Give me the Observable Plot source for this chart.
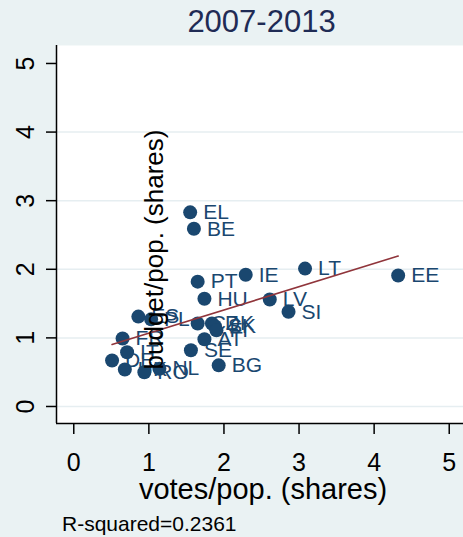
<!DOCTYPE html>
<html>
<head>
<meta charset="utf-8">
<script src="https://cdn.jsdelivr.net/npm/d3@7"></script>
<script src="https://cdn.jsdelivr.net/npm/@observablehq/plot@0.6"></script>
<style>
  html, body { margin: 0; padding: 0; background: #eaf2f3; width: 463px; height: 537px; overflow: hidden; }
  body { font-family: "Liberation Sans", Arial, sans-serif; }
  #title { height: 45px; line-height: 44px; font-size: 31px; color: #1f2b55; text-align: center; padding-left: 60px; box-sizing: border-box; width: 463px; }
  #chart svg { display: block; }
  #caption { font-size: 21px; line-height: 22px; padding-left: 62px; color: #000; }
</style>
</head>
<body>
<div id="title">2007-2013</div>
<div id="chart"></div>
<div id="caption">R-squared=0.2361</div>
<script>
// Country codes
const countries = ["DE","FR","UK","IT","ES","RO","PL","NL","SE","EL","BE","PT","CZ","HU","AT","DK","SK","FI","BG","IE","LV","SI","LT","EE"];
// votes/pop. (shares)
const votes = [0.51,0.65,0.68,0.71,0.86,0.94,1.03,1.14,1.56,1.55,1.60,1.65,1.65,1.74,1.74,1.84,1.88,1.90,1.93,2.29,2.61,2.86,3.08,4.32];
// budget/pop. (shares)
const budget = [0.67,0.99,0.54,0.79,1.31,0.50,1.27,0.55,0.82,2.83,2.59,1.82,1.21,1.57,0.98,1.21,1.17,1.11,0.60,1.92,1.56,1.38,2.01,1.91];
const xTicks = [0,1,2,3,4,5];
const yTicks = [0,1,2,3,4,5];
const gridTicks = [0,1,2,3,4];
const xTitle = "votes/pop. (shares)";
const yTitle = "budget/pop. (shares)";

const data = countries.map((c, i) => ({code: c, votes: votes[i], budget: budget[i]}));
const xDomain = [-0.23, 5.19];
const yDomain = [-0.248, 5.262];
const navy = "#1a476f";

const chart = Plot.plot({
  width: 463,
  height: 468,
  marginLeft: 56,
  marginRight: 0,
  marginTop: 0,
  marginBottom: 90,
  x: {domain: xDomain},
  y: {domain: yDomain},
  style: {background: "transparent", fontFamily: "'Liberation Sans', Arial, sans-serif", overflow: "visible"},
  marks: [
    Plot.frame({fill: "white", stroke: "none"}),
    Plot.gridY(gridTicks, {stroke: "#e6eef1", strokeOpacity: 1, strokeWidth: 1.5}),
    Plot.ruleX([xDomain[0]], {stroke: "black", strokeWidth: 1.5}),
    Plot.ruleY([yDomain[0]], {stroke: "black", strokeWidth: 1.5}),
    Plot.axisX(xTicks, {label: null, tickSize: 11, tickPadding: 19, fontSize: 25, fill: "black", stroke: "black", strokeWidth: 1.5, tickFormat: d => String(d)}),
    Plot.axisY(yTicks, {label: null, tickSize: 10, tickPadding: 13, tickRotate: -90, fontSize: 25, fill: "black", stroke: "black", strokeWidth: 1.5, tickFormat: d => String(d)}),
    Plot.dot(data, {x: "votes", y: "budget", r: 7, fill: navy, stroke: "none"}),
    Plot.text(data, {x: "votes", y: "budget", text: "code", textAnchor: "start", dx: 13, fontSize: 21, fill: navy}),
    Plot.linearRegressionY(data, {x: "votes", y: "budget", stroke: "#90353b", strokeWidth: 1.6, ci: 0}),
    Plot.text([xTitle], {frameAnchor: "bottom", textAnchor: "middle", lineAnchor: "middle", dx: 3, dy: 66, fontSize: 29, fill: "black"}),
    Plot.text([yTitle], {frameAnchor: "left", textAnchor: "middle", lineAnchor: "middle", dx: 98, dy: 15, rotate: -90, fontSize: 26, fill: "black"})
  ]
});
document.getElementById("chart").appendChild(chart);
</script>
</body>
</html>
